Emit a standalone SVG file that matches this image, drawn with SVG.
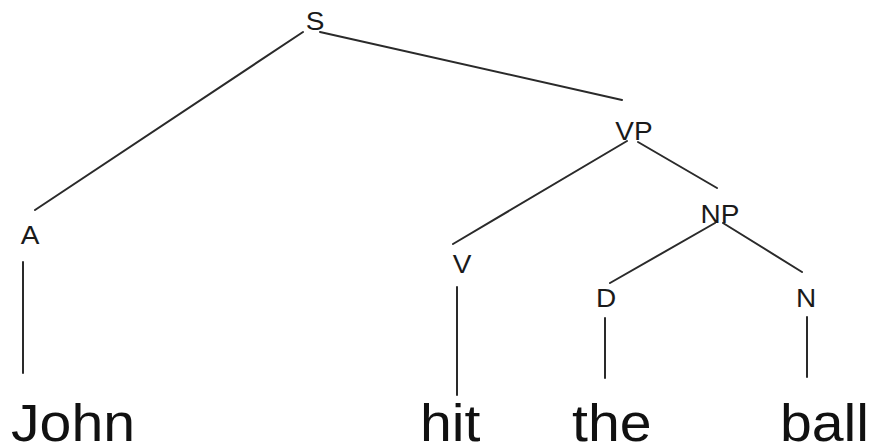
<svg xmlns="http://www.w3.org/2000/svg" width="871" height="443" viewBox="0 0 871 443">
  <style>
    .edge { stroke: #2a2a2a; stroke-width: 2; stroke-linecap: round; fill: none; }
    .lbl { font-family: "Liberation Sans", Arial, sans-serif; font-size: 25px; fill: #1a1a1a; text-anchor: middle; }
    .word { font-family: "Liberation Sans", Arial, sans-serif; font-size: 52px; fill: #111; }
  </style>
  <rect width="871" height="443" fill="#ffffff"/>

  <!-- tree branches -->
  <g id="connectors">
    <line class="edge" x1="303" y1="32" x2="35" y2="210"/>
    <line class="edge" x1="320" y1="32" x2="622" y2="100"/>
    <line class="edge" x1="627" y1="141" x2="453" y2="244"/>
    <line class="edge" x1="638" y1="142" x2="717" y2="188"/>
    <line class="edge" x1="715" y1="223" x2="610" y2="283"/>
    <line class="edge" x1="723" y1="223" x2="802" y2="272"/>
    <line class="edge" x1="23" y1="262" x2="23" y2="373"/>
    <line class="edge" x1="457" y1="287" x2="457" y2="395"/>
    <line class="edge" x1="605" y1="318" x2="605" y2="378"/>
    <line class="edge" x1="807" y1="317" x2="807" y2="377"/>
  </g>

  <!-- category nodes -->
  <g id="node-S"><text class="lbl" transform="translate(315,30) scale(1.12,1)">S</text></g>
  <g id="node-VP"><text class="lbl" transform="translate(634,140) scale(1.12,1)">VP</text></g>
  <g id="node-NP"><text class="lbl" transform="translate(720,223) scale(1.12,1)">NP</text></g>
  <g id="node-A"><text class="lbl" transform="translate(30,244) scale(1.12,1)">A</text></g>
  <g id="node-V"><text class="lbl" transform="translate(462,273) scale(1.12,1)">V</text></g>
  <g id="node-D"><text class="lbl" transform="translate(606,307) scale(1.12,1)">D</text></g>
  <g id="node-N"><text class="lbl" transform="translate(806,307) scale(1.12,1)">N</text></g>

  <!-- leaf words -->
  <g id="word-John"><text class="word" transform="translate(11,441) scale(1.1,1)">John</text></g>
  <g id="word-hit"><text class="word" transform="translate(420,441) scale(1.1,1)">hit</text></g>
  <g id="word-the"><text class="word" transform="translate(572,441) scale(1.1,1)">the</text></g>
  <g id="word-ball"><text class="word" transform="translate(780,441) scale(1.1,1)">ball</text></g>
</svg>
